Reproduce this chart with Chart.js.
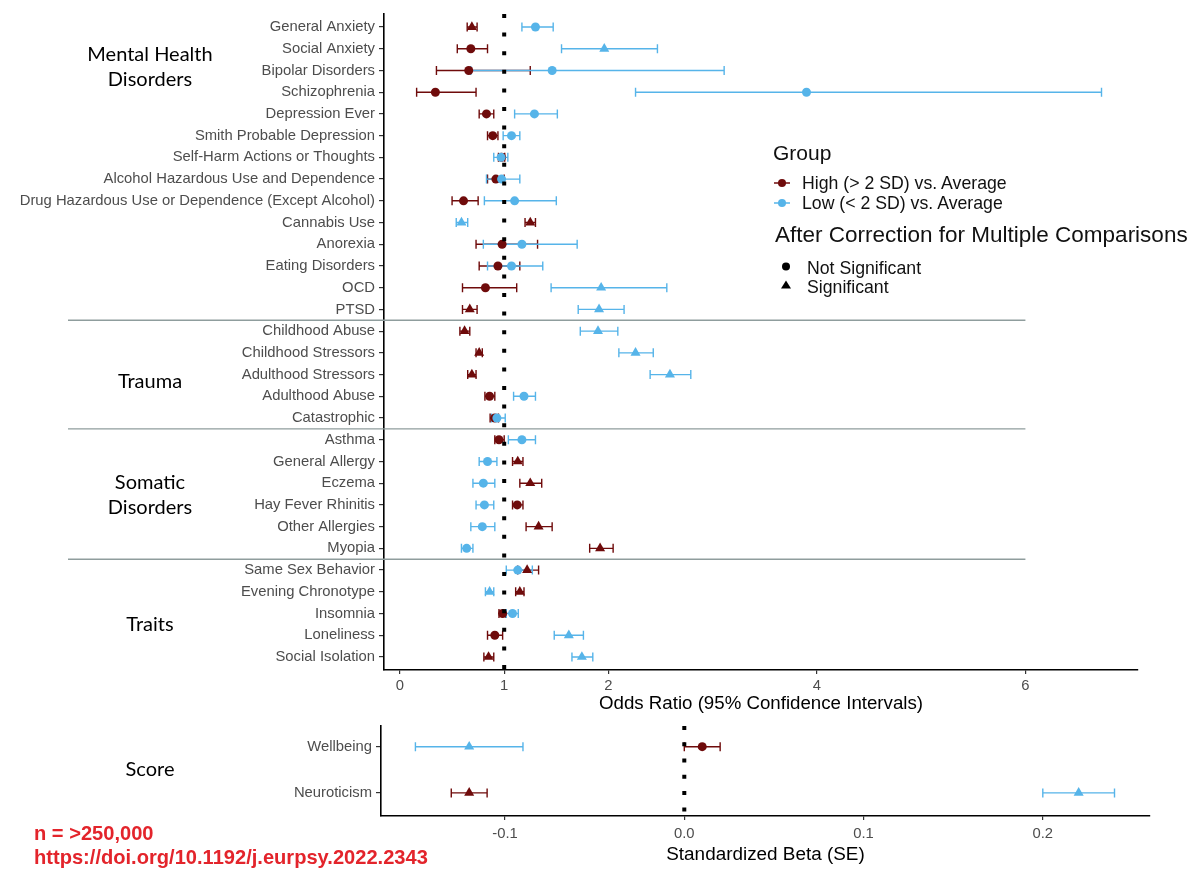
<!DOCTYPE html>
<html>
<head>
<meta charset="utf-8">
<script src="https://cdn.jsdelivr.net/npm/chart.js@4.4.1/dist/chart.umd.min.js"></script>
<style>
  body { margin: 0; background: #fff; width: 1200px; height: 886px; position: relative; overflow: hidden; font-family: "Liberation Sans", Arial, sans-serif; }
  canvas { position: absolute; left: 0; }
  #topChart { top: 0; }
  #bottomChart { top: 713px; }
  .grp { position: absolute; width: 200px; left: 50px; text-align: center; font-family: Lato, sans-serif; font-size: 20px; line-height: 25px; color: #000; }
  .leg { position: absolute; color: #111; white-space: nowrap; }
  .legGroup { font-size: 21px; line-height: 26px; }
  .legTitle { font-size: 22.5px; line-height: 26px; }
  .legItem { font-size: 17.7px; line-height: 20px; }
  .note { position: absolute; left: 34px; color: #e3242b; font-weight: bold; font-size: 20.1px; line-height: 24px; white-space: nowrap; }
</style>
</head>
<body>
<canvas id="topChart" width="1200" height="720"></canvas>
<canvas id="bottomChart" width="1200" height="171"></canvas>

<div class="grp" style="top:41px">Mental Health<br>Disorders</div>
<div class="grp" style="top:368px">Trauma</div>
<div class="grp" style="top:469px">Somatic<br>Disorders</div>
<div class="grp" style="top:611px">Traits</div>
<div class="grp" style="top:756px">Score</div>

<div class="leg legGroup" style="left:773px;top:140px">Group</div>
<svg style="position:absolute;left:772px;top:176px" width="20" height="34">
  <line x1="2" y1="7" x2="18" y2="7" stroke="#6f0b0b" stroke-width="1.5"/>
  <circle cx="10" cy="7" r="4" fill="#6f0b0b"/>
  <line x1="2" y1="27" x2="18" y2="27" stroke="#56B4E9" stroke-width="1.5"/>
  <circle cx="10" cy="27" r="4" fill="#56B4E9"/>
</svg>
<div class="leg legItem" style="left:802px;top:173px">High (&gt; 2 SD) vs. Average</div>
<div class="leg legItem" style="left:802px;top:193px">Low (&lt; 2 SD) vs. Average</div>
<div class="leg legTitle" style="left:775px;top:222px">After Correction for Multiple Comparisons</div>
<svg style="position:absolute;left:779px;top:259px" width="16" height="34">
  <circle cx="7" cy="7.5" r="4" fill="#000"/>
  <polygon points="7,21.5 12,29.5 2,29.5" fill="#000"/>
</svg>
<div class="leg legItem" style="left:807px;top:258px">Not Significant</div>
<div class="leg legItem" style="left:807px;top:277px">Significant</div>

<div class="note" style="top:821px">n = &gt;250,000</div>
<div class="note" style="top:845px">https://doi.org/10.1192/j.eurpsy.2022.2343</div>

<script>
// Colours
const HIGH_COLOR = '#6f0b0b';
const LOW_COLOR = '#56B4E9';
const LABEL_COLOR = '#4d4d4d';

// Odds ratio rows (top to bottom)
const topNames = [
    'General Anxiety', 'Social Anxiety', 'Bipolar Disorders', 'Schizophrenia', 'Depression Ever',
    'Smith Probable Depression', 'Self-Harm Actions or Thoughts', 'Alcohol Hazardous Use and Dependence',
    'Drug Hazardous Use or Dependence (Except Alcohol)', 'Cannabis Use', 'Anorexia', 'Eating Disorders',
    'OCD', 'PTSD',
    'Childhood Abuse', 'Childhood Stressors', 'Adulthood Stressors', 'Adulthood Abuse', 'Catastrophic',
    'Asthma', 'General Allergy', 'Eczema', 'Hay Fever Rhinitis', 'Other Allergies', 'Myopia',
    'Same Sex Behavior', 'Evening Chronotype', 'Insomnia', 'Loneliness', 'Social Isolation'
];

// High (> 2 SD) vs. Average
const highOR  = [0.69, 0.68, 0.66, 0.34, 0.83, 0.89, 0.975, 0.92, 0.61, 1.25, 0.98, 0.94, 0.82, 0.67,
                 0.62, 0.76, 0.69, 0.86, 0.91, 0.95, 1.13, 1.25, 1.125, 1.33, 1.92, 1.22, 1.15, 0.985, 0.91, 0.85];
const highLo  = [0.645, 0.55, 0.35, 0.16, 0.76, 0.84, 0.945, 0.84, 0.50, 1.20, 0.73, 0.76, 0.60, 0.60,
                 0.575, 0.73, 0.65, 0.815, 0.865, 0.91, 1.08, 1.15, 1.08, 1.21, 1.82, 1.13, 1.11, 0.95, 0.84, 0.805];
const highHi  = [0.74, 0.84, 1.25, 0.73, 0.90, 0.94, 1.005, 1.0, 0.75, 1.30, 1.32, 1.15, 1.12, 0.74,
                 0.67, 0.79, 0.73, 0.91, 0.945, 1.0, 1.18, 1.36, 1.18, 1.46, 2.045, 1.33, 1.19, 1.015, 0.985, 0.90];
const highSig = [1, 0, 0, 0, 0, 0, 0, 0, 0, 1, 0, 0, 0, 1,
                 1, 1, 1, 0, 0, 0, 1, 1, 0, 1, 1, 1, 1, 0, 0, 1];

// Low (< 2 SD) vs. Average
const lowOR  = [1.30, 1.96, 1.46, 3.90, 1.29, 1.07, 0.97, 0.975, 1.10, 0.59, 1.17, 1.07, 1.93, 1.91,
                1.90, 2.26, 2.59, 1.19, 0.93, 1.17, 0.84, 0.80, 0.81, 0.79, 0.64, 1.13, 0.86, 1.08, 1.62, 1.745];
const lowLo  = [1.17, 1.55, 0.68, 2.26, 1.10, 0.99, 0.90, 0.83, 0.81, 0.54, 0.80, 0.84, 1.45, 1.71,
                1.73, 2.10, 2.40, 1.09, 0.88, 1.04, 0.76, 0.70, 0.73, 0.68, 0.59, 1.02, 0.82, 1.02, 1.48, 1.65];
const lowHi  = [1.47, 2.47, 3.11, 6.73, 1.51, 1.15, 1.035, 1.15, 1.50, 0.65, 1.70, 1.37, 2.56, 2.15,
                2.09, 2.43, 2.79, 1.30, 1.01, 1.30, 0.93, 0.91, 0.90, 0.91, 0.70, 1.27, 0.90, 1.135, 1.76, 1.85];
const lowSig = [0, 1, 0, 0, 0, 0, 0, 0, 0, 1, 0, 0, 1, 1,
                1, 1, 1, 0, 0, 0, 0, 0, 0, 0, 0, 0, 1, 0, 1, 1];

const orTicks = [0, 1, 2, 4, 6];
const groupBreaks = [13.5, 18.5, 24.5];   // lines between the groups

// Standardized beta rows
const scoreNames = ['Wellbeing', 'Neuroticism'];
const highBeta = [0.01, -0.12];
const highBetaLo = [0.0, -0.13];
const highBetaHi = [0.02, -0.11];
const highBetaSig = [0, 1];
const lowBeta = [-0.12, 0.22];
const lowBetaLo = [-0.15, 0.20];
const lowBetaHi = [-0.09, 0.24];
const lowBetaSig = [1, 1];
const betaTicks = [-0.1, 0.0, 0.1, 0.2];

// draws the confidence interval bars under the points
const errorBars = {
    id: 'errorBars',
    beforeDatasetsDraw(chart) {
        const { ctx, scales: { x, y } } = chart;
        chart.data.datasets.forEach(ds => {
            if (!ds.ciLo) return;
            ctx.save();
            ctx.strokeStyle = ds.backgroundColor;
            ctx.lineWidth = 1.4;
            ds.data.forEach((p, i) => {
                const py = y.getPixelForValue(p.y);
                const x0 = x.getPixelForValue(ds.ciLo[i]);
                const x1 = x.getPixelForValue(ds.ciHi[i]);
                ctx.beginPath();
                ctx.moveTo(x0, py); ctx.lineTo(x1, py);
                ctx.moveTo(x0, py - 4.5); ctx.lineTo(x0, py + 4.5);
                ctx.moveTo(x1, py - 4.5); ctx.lineTo(x1, py + 4.5);
                ctx.stroke();
            });
            ctx.restore();
        });
    }
};

// grey lines separating the disorder groups
const groupLines = {
    id: 'groupLines',
    beforeDatasetsDraw(chart) {
        const { ctx, scales: { x, y } } = chart;
        ctx.save();
        ctx.strokeStyle = '#8f9d9d';
        ctx.lineWidth = 1.4;
        groupBreaks.forEach(b => {
            const py = y.getPixelForValue(b);
            ctx.beginPath();
            ctx.moveTo(68, py);
            ctx.lineTo(x.getPixelForValue(6), py);
            ctx.stroke();
        });
        ctx.restore();
    }
};

function makePoints(values) {
    return values.map((v, i) => ({ x: v, y: i }));
}

function groupDataset(label, color, values, lo, hi, sig, order) {
    return {
        type: 'scatter',
        label: label,
        data: makePoints(values),
        ciLo: lo,
        ciHi: hi,
        backgroundColor: color,
        borderColor: color,
        borderWidth: 0,
        pointStyle: c => sig[c.dataIndex] ? 'triangle' : 'circle',
        pointRadius: c => sig[c.dataIndex] ? 5.8 : 4.5,
        order: order
    };
}

function axisStyle(tickLen) {
    return {
        grid: { drawOnChartArea: false, drawTicks: true, tickLength: tickLen, color: '#333', lineWidth: 1.2 },
        border: { display: true, color: '#000', width: 1.6 }
    };
}

Chart.defaults.font.family = '"Liberation Sans", Arial, sans-serif';

// 1. Odds ratio chart
new Chart(document.getElementById('topChart'), {
    type: 'scatter',
    data: {
        datasets: [
            {
                type: 'line',
                data: [{ x: 1, y: -0.6 }, { x: 1, y: 29.6 }],
                borderColor: '#000',
                borderWidth: 4,
                borderDash: [4, 14.6],
                pointRadius: 0,
                order: 0
            },
            groupDataset('High (> 2 SD) vs. Average', HIGH_COLOR, highOR, highLo, highHi, highSig, 2),
            groupDataset('Low (< 2 SD) vs. Average', LOW_COLOR, lowOR, lowLo, lowHi, lowSig, 1)
        ]
    },
    options: {
        responsive: false,
        animation: false,
        layout: { padding: { left: 0, right: 62, top: 14, bottom: 0 } },
        plugins: { legend: { display: false }, tooltip: { enabled: false } },
        scales: {
            x: {
                type: 'linear',
                min: -0.153,
                max: 7.08,
                ...axisStyle(4),
                afterBuildTicks: s => { s.ticks = orTicks.map(v => ({ value: v })); },
                afterFit: s => { s.height = 50; },
                ticks: { color: LABEL_COLOR, font: { size: 14.8 }, padding: 3.5, maxRotation: 0 },
                title: { display: true, text: 'Odds Ratio (95% Confidence Intervals)', color: '#000',
                         font: { size: 18.7 }, padding: { top: 0, bottom: 4.6 } }
            },
            y: {
                type: 'linear',
                min: -0.6,
                max: 29.6,
                reverse: true,
                ...axisStyle(5),
                afterBuildTicks: s => { s.ticks = topNames.map((n, i) => ({ value: i })); },
                afterFit: s => { s.width = 384; },
                ticks: { color: LABEL_COLOR, font: { size: 14.8 }, padding: 4, autoSkip: false,
                         callback: v => topNames[v] }
            }
        }
    },
    plugins: [errorBars, groupLines]
});

// 2. Standardized beta chart
new Chart(document.getElementById('bottomChart'), {
    type: 'scatter',
    data: {
        datasets: [
            {
                type: 'line',
                data: [{ x: 0, y: -0.45 }, { x: 0, y: 1.5 }],
                borderColor: '#000',
                borderWidth: 4,
                borderDash: [4, 12.3],
                pointRadius: 0,
                order: 0
            },
            groupDataset('High (> 2 SD) vs. Average', HIGH_COLOR, highBeta, highBetaLo, highBetaHi, highBetaSig, 2),
            groupDataset('Low (< 2 SD) vs. Average', LOW_COLOR, lowBeta, lowBetaLo, lowBetaHi, lowBetaSig, 1)
        ]
    },
    options: {
        responsive: false,
        animation: false,
        layout: { padding: { left: 0, right: 50, top: 9, bottom: 12 } },
        plugins: { legend: { display: false }, tooltip: { enabled: false } },
        scales: {
            x: {
                type: 'linear',
                min: -0.1692,
                max: 0.2598,
                ...axisStyle(4),
                afterBuildTicks: s => { s.ticks = betaTicks.map(v => ({ value: v })); },
                afterFit: s => { s.height = 56; },
                ticks: { color: LABEL_COLOR, font: { size: 14.8 }, padding: 5.5, maxRotation: 0,
                         callback: v => v.toFixed(1) },
                title: { display: true, text: 'Standardized Beta (SE)', color: '#000',
                         font: { size: 18.9 }, padding: { top: 0, bottom: 5.6 } }
            },
            y: {
                type: 'linear',
                min: -0.45,
                max: 1.5,
                reverse: true,
                ...axisStyle(5),
                afterBuildTicks: s => { s.ticks = scoreNames.map((n, i) => ({ value: i })); },
                afterFit: s => { s.width = 381; },
                ticks: { color: LABEL_COLOR, font: { size: 14.8 }, padding: 4, autoSkip: false,
                         callback: v => scoreNames[v] }
            }
        }
    },
    plugins: [errorBars]
});
</script>
</body>
</html>
